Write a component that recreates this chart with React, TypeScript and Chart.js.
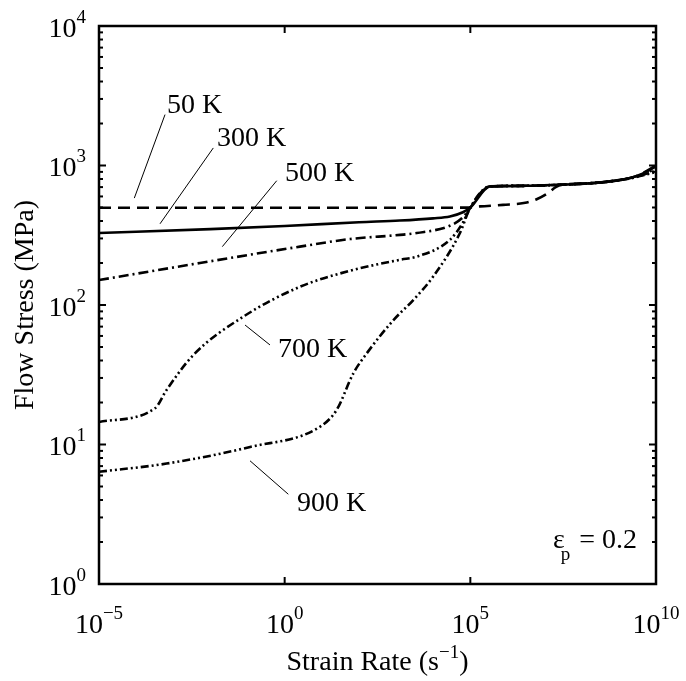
import React, { useEffect, useRef } from "react";
import { Chart, registerables } from "chart.js";

Chart.register(...registerables);

const FONT = '"Liberation Serif", "Times New Roman", serif';

// Axis tick exponents (base 10)
const xTickExps = [-5, 0, 5, 10];
const yTickExps = [0, 1, 2, 3, 4];
const yMinorMultipliers = [2, 3, 4, 5, 6, 7, 8, 9];

// Series: log10(strain rate) and flow stress (MPa)
const logRate50 = [-5, -2, 1, 4, 4.9, 5.26, 5.88, 6.52, 6.8, 7.09, 7.3, 7.5, 8.2, 8.76, 9.3, 9.57, 10];
const stress50 = [498, 498, 498, 498, 499, 509, 522, 543, 575, 633, 700, 730, 745, 769, 815, 862, 1000];

const logRate300 = [-5, -2, 0, 2, 3.1, 4.0, 4.45, 4.8, 5.0, 5.53, 6.5, 7.4, 8.2, 8.76, 9.3, 9.57, 10];
const stress300 = [328, 350, 368, 392, 403, 418, 431, 462, 500, 708, 715, 728, 745, 769, 815, 859, 985];

const logRate500 = [-5, -2.28, 0.41, 1.76, 3.107, 3.556, 4.45, 4.8, 5.0, 5.53, 6.5, 7.4, 8.2, 8.76, 9.3, 9.57, 10];
const stress500 = [151, 200, 262, 297, 318, 328, 370, 425, 500, 708, 715, 728, 745, 769, 812, 850, 950];

const logRate700 = [-5, -3.49, -3.18, -2.46, -1.11, 0.41, 1.76, 3.107, 3.556, 4.45, 4.8, 5.0, 5.53, 6.5, 7.4, 8.2, 8.76, 9.3, 9.57, 10];
const stress700 = [14.5, 18.2, 24.6, 43.8, 82.6, 135, 176, 211, 222, 293, 390, 500, 708, 715, 728, 745, 769, 810, 845, 920];

const logRate900 = [-5, -3.18, -0.93, 0.95, 1.4, 1.85, 2.21, 2.93, 3.47, 4.0, 4.72, 5.0, 5.53, 6.5, 7.4, 8.2, 8.76, 9.3, 9.57, 10];
const stress900 = [6.37, 7.3, 9.6, 13.4, 17.7, 32.4, 45, 78, 109, 160, 328, 500, 708, 715, 728, 745, 769, 808, 840, 900];

// Annotation labels: text anchor and leader line, in data coordinates (log10 rate, stress)
const labelTexts = ["50 K", "300 K", "500 K", "700 K", "900 K"];
const labelAt = [
  [-3.169, 2393],
  [-1.822, 1387],
  [0.009, 778],
  [-0.179, 42.4],
  [0.333, 3.33],
];
const leaderFrom = [
  [-3.222, 2317],
  [-1.922, 1336],
  [-0.214, 778],
  [-1.068, 71.9],
  [-0.933, 7.64],
];
const leaderTo = [
  [-4.049, 584],
  [-3.357, 382],
  [-1.679, 262],
  [-0.395, 51.7],
  [0.098, 4.4],
];
const strainNoteAt = [7.227, 1.8];

const toPoints = (lx: number[], ys: number[]) =>
  lx.map((e, i) => ({ x: Math.pow(10, e), y: ys[i] }));

const decorPlugin = {
  id: "decor",
  afterDraw(chart: any) {
    const { ctx, chartArea: a } = chart;
    const sx = chart.scales.x;
    const sy = chart.scales.y;
    const px = (e: number) => sx.getPixelForValue(Math.pow(10, e));
    const py = (v: number) => sy.getPixelForValue(v);
    ctx.save();
    ctx.strokeStyle = "#000";
    ctx.fillStyle = "#000";
    const seg = (x1: number, y1: number, x2: number, y2: number) => {
      ctx.beginPath();
      ctx.moveTo(x1, y1);
      ctx.lineTo(x2, y2);
      ctx.stroke();
    };
    // ticks
    ctx.lineWidth = 2;
    for (const e of xTickExps) {
      const x = px(e);
      seg(x, a.bottom, x, a.bottom - 7);
      seg(x, a.top, x, a.top + 7);
    }
    for (const e of yTickExps) {
      const y = py(Math.pow(10, e));
      seg(a.left, y, a.left + 7, y);
      seg(a.right, y, a.right - 7, y);
    }
    for (let d = 0; d < 4; d++) {
      for (const m of yMinorMultipliers) {
        const y = py(m * Math.pow(10, d));
        seg(a.left, y, a.left + 4, y);
        seg(a.right, y, a.right - 4, y);
      }
    }
    // box
    ctx.lineWidth = 2.5;
    ctx.strokeRect(a.left, a.top, a.right - a.left, a.bottom - a.top);

    const big = `28px ${FONT}`;
    const small = `19px ${FONT}`;
    ctx.textBaseline = "alphabetic";
    ctx.textAlign = "left";
    const powWidth = (exp: string) => {
      ctx.font = big;
      const w1 = ctx.measureText("10").width;
      ctx.font = small;
      const w2 = ctx.measureText(exp).width;
      return [w1, w2];
    };
    const drawPow = (exp: string, left: number, base: number) => {
      ctx.font = big;
      ctx.fillText("10", left, base);
      const w1 = ctx.measureText("10").width;
      ctx.font = small;
      ctx.fillText(exp, left + w1, base - 14);
    };
    const expStr = (e: number) => (e < 0 ? "\u2212" + String(-e) : String(e));
    // x tick labels
    for (const e of xTickExps) {
      const s = expStr(e);
      const [w1, w2] = powWidth(s);
      drawPow(s, px(e) - (w1 + w2) / 2, a.bottom + 49);
    }
    // y tick labels
    for (const e of yTickExps) {
      const s = expStr(e);
      const [w1, w2] = powWidth(s);
      drawPow(s, a.left - 13 - (w1 + w2), py(Math.pow(10, e)) + 10.5);
    }
    // x title
    {
      ctx.font = big;
      const t1 = "Strain Rate (s";
      const t3 = ")";
      const w1 = ctx.measureText(t1).width;
      const w3 = ctx.measureText(t3).width;
      ctx.font = small;
      const t2 = "\u22121";
      const w2 = ctx.measureText(t2).width;
      const total = w1 + w2 + w3;
      const cx = (a.left + a.right) / 2;
      const left = cx - total / 2;
      const base = a.bottom + 86;
      ctx.font = big;
      ctx.fillText(t1, left, base);
      ctx.font = small;
      ctx.fillText(t2, left + w1, base - 12);
      ctx.font = big;
      ctx.fillText(t3, left + w1 + w2, base);
    }
    // y title
    {
      ctx.save();
      ctx.translate(33, (a.top + a.bottom) / 2);
      ctx.rotate(-Math.PI / 2);
      ctx.font = big;
      ctx.textAlign = "center";
      ctx.fillText("Flow Stress (MPa)", 0, 0);
      ctx.restore();
    }
    // annotations
    ctx.lineWidth = 1;
    for (let i = 0; i < labelTexts.length; i++) {
      seg(px(leaderFrom[i][0]), py(leaderFrom[i][1]), px(leaderTo[i][0]), py(leaderTo[i][1]));
      ctx.font = big;
      ctx.fillText(labelTexts[i], px(labelAt[i][0]), py(labelAt[i][1]));
    }
    // strain note
    {
      const x0 = px(strainNoteAt[0]);
      const b = py(strainNoteAt[1]);
      ctx.font = big;
      ctx.fillText("\u03b5", x0, b);
      const we = ctx.measureText("\u03b5").width;
      ctx.font = small;
      ctx.fillText("p", x0 + we - 4, b + 12);
      const wp = ctx.measureText("p").width;
      ctx.font = big;
      ctx.fillText(" = 0.2", x0 + we - 4 + wp + 2, b);
    }
    ctx.restore();
  },
};

export default function App() {
  const ref = useRef<HTMLCanvasElement | null>(null);
  useEffect(() => {
    if (!ref.current) return;
    const common = {
      borderColor: "#000",
      borderWidth: 2.6,
      pointRadius: 0,
      fill: false,
      cubicInterpolationMode: "monotone" as const,
    };
    const chart = new Chart(ref.current, {
      type: "line",
      data: {
        datasets: [
          { ...common, label: "50 K", data: toPoints(logRate50, stress50), borderDash: [12, 7] },
          { ...common, label: "300 K", data: toPoints(logRate300, stress300) },
          { ...common, label: "500 K", data: toPoints(logRate500, stress500), borderDash: [10, 4, 2, 4] },
          { ...common, label: "700 K", data: toPoints(logRate700, stress700), borderDash: [8, 3, 2, 3, 2, 3] },
          { ...common, label: "900 K", data: toPoints(logRate900, stress900), borderDash: [8, 3, 2, 3, 2, 3] },
        ],
      },
      options: {
        responsive: false,
        animation: false,
        layout: { padding: { left: 99, top: 26, right: 30, bottom: 97 } },
        plugins: { legend: { display: false }, tooltip: { enabled: false } },
        scales: {
          x: { type: "logarithmic", min: 1e-5, max: 1e10, display: false },
          y: { type: "logarithmic", min: 1, max: 1e4, display: false },
        },
      },
      plugins: [decorPlugin],
    });
    return () => chart.destroy();
  }, []);
  return (
    <div style={{ position: "absolute", left: 0, top: 0, width: 686, height: 681, background: "#fff" }}>
      <canvas ref={ref} width={686} height={681} style={{ display: "block" }} />
    </div>
  );
}
